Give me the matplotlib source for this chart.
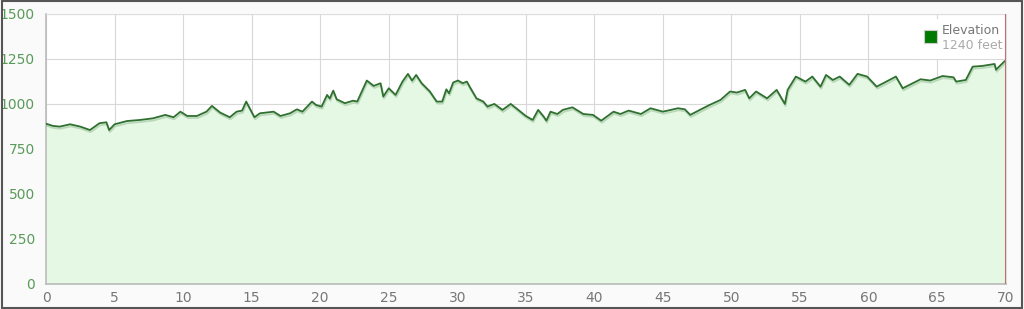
import numpy as np
import matplotlib.pyplot as plt
from matplotlib.patches import Rectangle
import matplotlib.patheffects as pe

# distance (miles) and elevation (feet)
miles = [0, 0.5, 1.0, 1.75, 2.5, 3.2, 3.9, 4.4, 4.6, 5.0, 5.9, 6.85, 7.8, 8.7, 9.3,
         9.8, 10.3, 11.0, 11.7, 12.1, 12.7, 13.4, 13.9, 14.3, 14.6, 15.2, 15.6, 16.6,
         17.1, 17.8, 18.3, 18.7, 19.4, 19.7, 20.1, 20.5, 20.7, 20.95, 21.2, 21.8,
         22.4, 22.7, 23.4, 23.9, 24.4, 24.6, 25.0, 25.5, 26.0, 26.4, 26.7, 27.0,
         27.4, 28.0, 28.5, 28.9, 29.2, 29.4, 29.7, 30.05, 30.4, 30.7, 30.9, 31.4,
         31.9, 32.2, 32.7, 33.3, 33.9, 34.3, 35.0, 35.5, 35.9, 36.3, 36.5, 36.8,
         37.3, 37.7, 38.4, 39.2, 39.9, 40.5, 41.4, 41.9, 42.5, 43.4, 44.1, 45.0,
         46.1, 46.6, 47.0, 47.7, 48.4, 49.2, 49.9, 50.4, 51.0, 51.3, 51.8, 52.6,
         53.3, 53.9, 54.1, 54.7, 55.4, 55.9, 56.5, 56.9, 57.4, 57.9, 58.6, 59.2,
         59.9, 60.6, 61.3, 62.0, 62.5, 63.0, 63.8, 64.5, 65.4, 66.2, 66.4, 67.1,
         67.6, 68.3, 69.2, 69.3, 69.9, 70.0]
elevation = [890, 878, 874, 887, 874, 855, 893, 898, 855, 887, 905, 911, 920, 939, 926,
             957, 933, 933, 957, 989, 952, 926, 957, 963, 1013, 926, 948, 957,
             933, 948, 970, 957, 1013, 994, 985, 1050, 1030, 1074, 1026, 1004,
             1018, 1013, 1130, 1100, 1115, 1041, 1087, 1050, 1124, 1167, 1130, 1161,
             1115, 1069, 1013, 1013, 1081, 1059, 1119, 1130, 1115, 1124, 1096, 1031,
             1013, 985, 1000, 967, 1000, 976, 933, 911, 967, 930, 907, 957,
             944, 967, 981, 944, 939, 907, 957, 944, 963, 944, 976, 957,
             976, 970, 939, 967, 994, 1022, 1069, 1063, 1078, 1031, 1069, 1031,
             1078, 1000, 1078, 1152, 1124, 1152, 1096, 1161, 1133, 1152, 1106, 1167,
             1152, 1096, 1124, 1152, 1087, 1106, 1137, 1130, 1155, 1148, 1124, 1133,
             1207, 1211, 1222, 1190, 1235, 1240]
x_ticks = np.arange(0, 71, 5)
y_ticks = np.arange(0, 1501, 250)

fig = plt.figure(figsize=(10.24, 3.09), dpi=100, facecolor='#fafafa')
ax = fig.add_axes([0.045, 0.081, 0.937, 0.874])
ax.set_facecolor('white')

ax.fill_between(miles, elevation, 0, color='#e4f8e4', zorder=1)
ax.plot(miles, elevation, color='#2f6f2f', lw=1.3, zorder=3,
        path_effects=[pe.SimpleLineShadow(offset=(0.5, -1.5), shadow_color='#6a9a6a', alpha=0.35),
                      pe.Normal()])
ax.axvline(70, color='#c07070', lw=1.5, zorder=4)

ax.set_xlim(0, 70)
ax.set_ylim(0, 1500)
ax.set_xticks(x_ticks)
ax.set_yticks(y_ticks)
ax.grid(True, color='#d8d8d8', lw=0.8, zorder=0)
ax.set_axisbelow(True)
ax.tick_params(axis='both', length=0)
ax.tick_params(axis='y', colors='#5a9a5a', labelsize=10, pad=8)
ax.tick_params(axis='x', colors='#777777', labelsize=10, pad=5)
for s in ['top', 'right']:
    ax.spines[s].set_color('#dddddd')
for s in ['left', 'bottom']:
    ax.spines[s].set_color('#bbbbbb')
    ax.spines[s].set_linewidth(1.2)

# legend box
fig.patches.append(Rectangle((0.895, 0.81), 0.083, 0.13, transform=fig.transFigure,
                             facecolor='white', edgecolor='none', zorder=5))
fig.patches.append(Rectangle((0.902, 0.862), 0.013, 0.04, transform=fig.transFigure,
                             facecolor='#007a00', edgecolor='#cccccc', lw=0.8, zorder=6))
fig.text(0.920, 0.900, 'Elevation', color='#777777', fontsize=9, va='center', zorder=7)
fig.text(0.920, 0.852, '1240 feet', color='#aaaaaa', fontsize=9, va='center', zorder=7)

fig.patches.append(Rectangle((0.002, 0.004), 0.996, 0.992, transform=fig.transFigure,
                             facecolor='none', edgecolor='#555555', lw=1.5))

fig.savefig('out.png', dpi=100, facecolor=fig.get_facecolor())
